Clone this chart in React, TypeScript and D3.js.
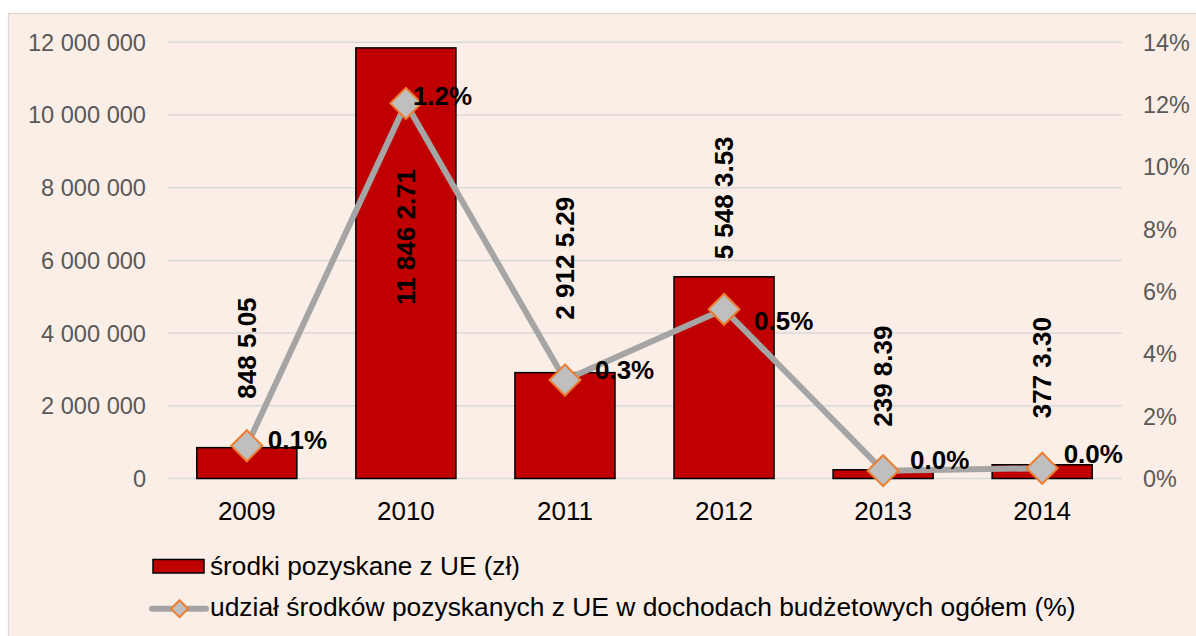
import React from "react";
import * as d3 from "d3";

// ---- data ----
const years = ["2009", "2010", "2011", "2012", "2013", "2014"];
const funds = [848505, 11846271, 2912529, 5548353, 239839, 377330];
const shares = [1.05, 12.04, 3.16, 5.43, 0.25, 0.33];
const fundLabels = ["848 5.05", "11 846 2.71", "2 912 5.29", "5 548 3.53", "239 8.39", "377 3.30"];
const shareLabels = ["0.1%", "1.2%", "0.3%", "0.5%", "0.0%", "0.0%"];
const leftTicks = [0, 2000000, 4000000, 6000000, 8000000, 10000000, 12000000];
const rightTicks = [0, 2, 4, 6, 8, 10, 12, 14];
const legendBar = "środki pozyskane z UE (zł)";
const legendLine = "udział środków pozyskanych z UE w dochodach budżetowych ogółem (%)";

// ---- layout (manual label placements, px) ----
const fundLabelOffsets = [-49, 257, -53, -17.5, -43, -46.5];
const shareLabelNudges: [number, number][] = [
  [21, -5.7],
  [7, -7.3],
  [30, -10.5],
  [30, 11],
  [27, -10.7],
  [21.5, -15],
];

const W = 1196;
const H = 636;
const FONT = "'Liberation Sans', Arial, Helvetica, sans-serif";

export default function App() {
  const x = d3.scaleBand<string>().domain(years).range([167.3, 1121.7]).padding(0);
  const yL = d3.scaleLinear().domain([0, 12000000]).range([478.5, 42.3]);
  const yR = d3.scaleLinear().domain([0, 14]).range([478.5, 42.3]);
  const barW = x.bandwidth() * 0.629;
  const cx = (y: string) => (x(y) as number) + x.bandwidth() / 2;

  const locale = d3.formatLocale({
    decimal: ",",
    thousands: " ",
    grouping: [3],
    currency: ["", ""],
  });
  const fmtL = locale.format(",.0f");
  const fmtR = (v: number) => `${v}%`;

  const pts: [number, number][] = years.map((y, i) => [cx(y), yR(shares[i])]);
  const line = d3.line()(pts) as string;

  const diamond = (px: number, py: number, r: number) =>
    `M${px},${py - r}L${px + r},${py}L${px},${py + r}L${px - r},${py}Z`;

  const [x0, x1] = x.range();

  return (
    <svg
      width={W}
      height={H}
      style={{ position: "absolute", left: 0, top: 0, fontFamily: FONT }}
    >
      <rect x={0} y={0} width={W} height={H} fill="#ffffff" />
      <rect
        x={8.5}
        y={13.5}
        width={W + 10}
        height={H + 10}
        fill="#FBEEE6"
        stroke="#D9D9D9"
        strokeWidth={1.3}
      />

      {/* gridlines */}
      {leftTicks.map((t) => (
        <line
          key={"g" + t}
          x1={x0}
          x2={x1}
          y1={yL(t)}
          y2={yL(t)}
          stroke="#D9D9D9"
          strokeWidth={1.5}
        />
      ))}

      {/* left axis labels */}
      {leftTicks.map((t) => (
        <text
          key={"l" + t}
          x={146}
          y={yL(t) + 8.4}
          textAnchor="end"
          fontSize={23.6}
          fill="#595959"
        >
          {fmtL(t)}
        </text>
      ))}

      {/* right axis labels */}
      {rightTicks.map((t) => (
        <text
          key={"r" + t}
          x={1143}
          y={yR(t) + 8.4}
          textAnchor="start"
          fontSize={23.4}
          fill="#595959"
        >
          {fmtR(t)}
        </text>
      ))}

      {/* bars */}
      {years.map((y, i) => (
        <rect
          key={"b" + y}
          x={cx(y) - barW / 2}
          y={yL(funds[i])}
          width={barW}
          height={yL(0) - yL(funds[i])}
          fill="#C00000"
          stroke="#000000"
          strokeWidth={1.5}
        />
      ))}

      {/* category labels */}
      {years.map((y) => (
        <text
          key={"c" + y}
          x={cx(y)}
          y={519.5}
          textAnchor="middle"
          fontSize={26}
          fill="#000000"
        >
          {y}
        </text>
      ))}

      {/* line */}
      <path
        d={line}
        fill="none"
        stroke="#A5A5A5"
        strokeWidth={6}
        strokeLinejoin="round"
        strokeLinecap="round"
      />
      {pts.map(([px, py], i) => (
        <path
          key={"m" + i}
          d={diamond(px, py, 15.5)}
          fill="#BFBFBF"
          stroke="#ED7D31"
          strokeWidth={2}
        />
      ))}

      {/* bar value labels (rotated) */}
      {years.map((y, i) => {
        const bottom = yL(funds[i]) + fundLabelOffsets[i];
        return (
          <text
            key={"fl" + y}
            transform={`translate(${cx(y)},${bottom}) rotate(-90)`}
            x={0}
            y={9.3}
            textAnchor="start"
            fontSize={26}
            fontWeight="bold"
            fill="#000000"
          >
            {fundLabels[i]}
          </text>
        );
      })}

      {/* share labels */}
      {pts.map(([px, py], i) => (
        <text
          key={"sl" + i}
          x={px + shareLabelNudges[i][0]}
          y={py + shareLabelNudges[i][1] + 9.3}
          textAnchor="start"
          fontSize={26}
          fontWeight="bold"
          fill="#000000"
        >
          {shareLabels[i]}
        </text>
      ))}

      {/* legend */}
      <rect
        x={153}
        y={559.5}
        width={51}
        height={13.5}
        fill="#C00000"
        stroke="#000000"
        strokeWidth={1.5}
      />
      <text x={210} y={575} fontSize={26.2} fill="#000000">
        {legendBar}
      </text>
      <line
        x1={152}
        x2={206}
        y1={608.7}
        y2={608.7}
        stroke="#A5A5A5"
        strokeWidth={6}
        strokeLinecap="round"
      />
      <path d={diamond(179.5, 608.7, 8.5)} fill="#BFBFBF" stroke="#ED7D31" strokeWidth={2} />
      <text x={210} y={616} fontSize={26.4} fill="#000000">
        {legendLine}
      </text>
    </svg>
  );
}
